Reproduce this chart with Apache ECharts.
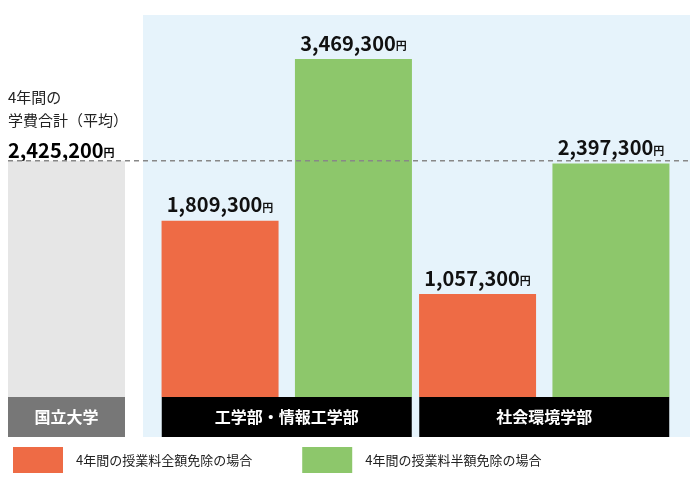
<!DOCTYPE html><html><head><meta charset="utf-8">
<script src="https://cdn.jsdelivr.net/npm/echarts@6/dist/echarts.min.js"></script>
<style>html,body{margin:0;background:#fff}#c{width:700px;height:483px}</style></head><body><div id="c"></div>
<script>
const nationalCat = ['国立大学'];
const nationalVal = [2425200];
const facultyCats = ['工学部・情報工学部', '社会環境学部'];
const fullExempt = [1809300, 1057300];
const halfExempt = [3469300, 2397300];
const seriesNames = ['4年間の授業料全額免除の場合', '4年間の授業料半額免除の場合'];
const yMax = 3469300;

const font = "'Noto Sans CJK JP', sans-serif";
const fmt = v => v.toLocaleString('en-US');
const valLabel = {show: true, position: 'top', distance: 6, formatter: p => '{n|' + fmt(p.value) + '}{u|円}',
  rich: {n: {fontSize: 20, fontWeight: 'bold', color: '#111', fontFamily: font}, u: {fontSize: 11, fontWeight: 'bold', color: '#111', fontFamily: font, padding: [6, 0, 0, 0]}}};
const chart = echarts.init(document.getElementById('c'));
const axisCommon = (w, bg) => ({axisLine: {show: false}, axisTick: {show: false},
  axisLabel: {margin: 0, color: '#fff', fontSize: 16, fontWeight: 'bold', fontFamily: font, backgroundColor: bg, width: w, height: 40, lineHeight: 40, align: 'center', verticalAlign: 'top'}});
chart.setOption({
  animation: false,
  graphic: [{id: 'bg', type: 'rect', z: -10, silent: true, shape: {x: 143, y: 15, width: 547, height: 422}, style: {fill: '#e6f3fb'}},
    {id: 't1', type: 'text', left: 8, top: 86, style: {text: '4年間の\n学費合計（平均）', font: '15px ' + font, fill: '#222', lineHeight: 23}},
    {id: 't2', type: 'text', left: 8, top: 140, style: {text: '{n|' + fmt(nationalVal[0]) + '}{u|円}', rich: valLabel.rich}}],
  grid: [{left: 8, width: 117, top: 59, bottom: 86}, {left: 158, width: 515, top: 59, bottom: 86}],
  xAxis: [Object.assign({type: 'category', gridIndex: 0, data: nationalCat}, axisCommon(117, '#777')),
          Object.assign({type: 'category', gridIndex: 1, data: facultyCats}, axisCommon(250, '#000'))],
  yAxis: [{type: 'value', gridIndex: 0, min: 0, max: yMax, show: false}, {type: 'value', gridIndex: 1, min: 0, max: yMax, show: false}],
  legend: {left: 8, bottom: 5, itemWidth: 50, itemHeight: 26, itemGap: 50, icon: 'rect', data: seriesNames,
    textStyle: {fontSize: 13, color: '#222', fontFamily: font, padding: [0, 0, 0, 8]}},
  series: [
    {type: 'bar', xAxisIndex: 0, yAxisIndex: 0, data: nationalVal, barWidth: 117, itemStyle: {color: '#e6e6e6'}},
    {name: seriesNames[0], type: 'bar', xAxisIndex: 1, yAxisIndex: 1, data: fullExempt, barWidth: 117, barGap: '14%', itemStyle: {color: '#ee6b45'}, label: valLabel},
    {name: seriesNames[1], type: 'bar', xAxisIndex: 1, yAxisIndex: 1, data: halfExempt, barWidth: 117, barGap: '14%', itemStyle: {color: '#8dc76b'}, label: valLabel}
  ]
});
const y = chart.convertToPixel({yAxisIndex: 0}, nationalVal[0]);
chart.setOption({graphic: [{id: 'dash', type: 'line', z: 10, silent: true, shape: {x1: 8, y1: y, x2: 690, y2: y}, style: {stroke: '#888', lineWidth: 1.5, lineDash: [5, 4]}}]});
</script></body></html>
